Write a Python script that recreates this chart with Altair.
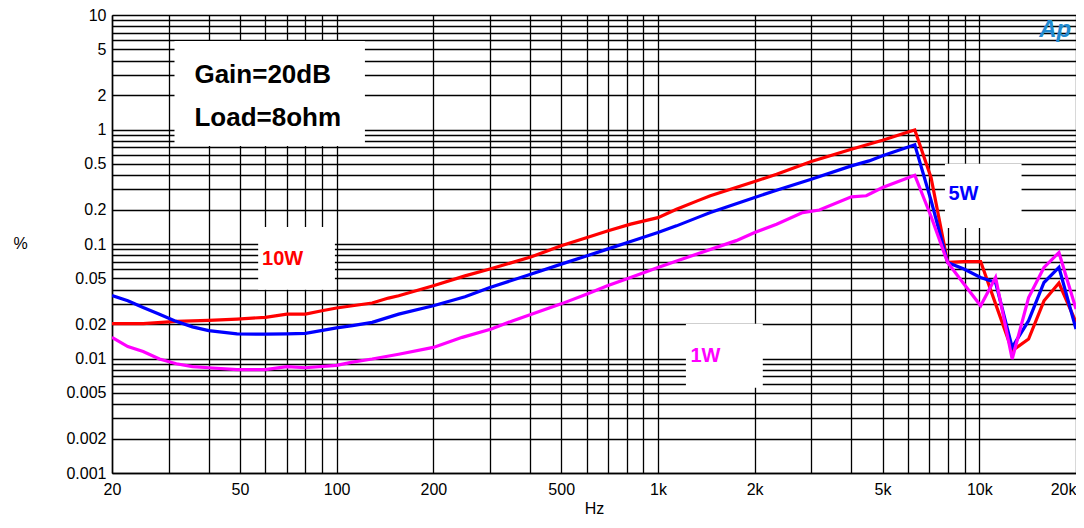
import altair as alt
import pandas as pd

# ---------------- data ----------------
freq_10w = [20, 25, 31.7, 40, 49, 60, 70, 80, 90, 100, 112, 129, 145, 156, 200, 251, 300, 404, 500, 602,
            696, 822, 1000, 1142, 1326, 1456, 2000, 2340, 3000, 4000, 5000, 5940, 6300, 7080, 7970, 8960,
            10100, 11240, 12660, 14240, 15900, 17700, 20000]
thd_10w = [0.0202, 0.0202, 0.0211, 0.0215, 0.0221, 0.0229, 0.0244, 0.0244, 0.0261, 0.0276, 0.0289, 0.0305,
           0.0337, 0.0353, 0.0432, 0.0527, 0.0604, 0.0773, 0.0964, 0.114, 0.130, 0.149, 0.170, 0.201, 0.238,
           0.264, 0.351, 0.407, 0.525, 0.673, 0.807, 0.940, 0.99, 0.380, 0.069, 0.0702, 0.0703, 0.030,
           0.0117, 0.0148, 0.0319, 0.0456, 0.0207]

freq_5w = [20, 22.4, 25, 28.1, 31.3, 35.6, 40, 49, 60, 70, 80, 100, 112, 129, 156, 200, 251, 300, 404, 500,
           602, 696, 822, 1000, 1142, 1326, 1456, 2000, 2340, 3000, 4000, 4540, 5000, 6300, 7080, 7970, 8960,
           10100, 11240, 12660, 14240, 15900, 17700, 20000]
thd_5w = [0.0355, 0.0319, 0.0279, 0.0244, 0.0214, 0.0189, 0.0175, 0.0164, 0.0163, 0.0164, 0.0166, 0.0185,
          0.0194, 0.0207, 0.0244, 0.0289, 0.0346, 0.0417, 0.0546, 0.0667, 0.0788, 0.0902, 0.105, 0.126, 0.144,
          0.170, 0.188, 0.255, 0.295, 0.368, 0.481, 0.532, 0.591, 0.735, 0.240, 0.069, 0.0604, 0.0510, 0.0461,
          0.0125, 0.0214, 0.0461, 0.0624, 0.0181]

freq_1w = [20, 22.4, 25, 28.1, 31.7, 35.6, 40, 49, 60, 70, 80, 100, 112, 129, 156, 200, 246, 303, 354, 404,
           500, 602, 696, 822, 1000, 1230, 1752, 2000, 2340, 2820, 3180, 4000, 4450, 5000, 6300, 7080, 7970,
           8960, 10100, 11240, 12660, 14240, 15900, 17700, 20000]
thd_1w = [0.0153, 0.0127, 0.0115, 0.0099, 0.0090, 0.0085, 0.0083, 0.0080, 0.0080, 0.0085, 0.0083, 0.0087,
          0.0093, 0.0099, 0.0109, 0.0125, 0.0153, 0.0181, 0.0214, 0.0244, 0.0300, 0.0366, 0.0432, 0.0511,
          0.0624, 0.0762, 0.107, 0.126, 0.149, 0.188, 0.198, 0.258, 0.264, 0.311, 0.399, 0.174, 0.069, 0.0447,
          0.0289, 0.0510, 0.0099, 0.0341, 0.0624, 0.0843, 0.0270]

series_names = ["10W", "5W", "1W"]
series_colors = ["#ff0000", "#0000ff", "#ff00ff"]

# tick values / labels
x_label_values = [20, 50, 100, 200, 500, 1000, 2000, 5000, 10000, 20000]
x_label_texts = ["20", "50", "100", "200", "500", "1k", "2k", "5k", "10k", "20k"]
y_label_values = [0.001, 0.002, 0.005, 0.01, 0.02, 0.05, 0.1, 0.2, 0.5, 1, 2, 5, 10]
y_label_texts = ["0.001", "0.002", "0.005", "0.01", "0.02", "0.05", "0.1", "0.2", "0.5", "1", "2", "5", "10"]

# annotation boxes (white patches) in data coordinates
box_f1 = [31.3, 57.0, 7820, 1222]
box_f2 = [122.5, 98.8, 13540, 2120]
box_v1 = [5.93, 0.141, 0.501, 0.0201]
box_v2 = [0.719, 0.0398, 0.138, 0.00556]

# annotation texts
note_text = ["Gain=20dB", "Load=8ohm", "10W", "5W", "1W"]
note_f = [36.1, 36.1, 58.6, 8020, 1262]
note_v = [2.99, 1.26, 0.0743, 0.274, 0.01047]
note_color = ["#000000", "#000000", "#ff0000", "#0000ff", "#ff00ff"]
note_size = [26, 26, 20, 20, 20]

# ---------------- build tables ----------------
rows = []
for name, fs, vs in zip(series_names, [freq_10w, freq_5w, freq_1w], [thd_10w, thd_5w, thd_1w]):
    for f, v in zip(fs, vs):
        rows.append({"series": name, "freq": f, "thd": v})
df = pd.DataFrame(rows)

box_df = pd.DataFrame({"f1": box_f1, "f2": box_f2, "v1": box_v1, "v2": box_v2})
note_df = pd.DataFrame({"text": note_text, "f": note_f, "v": note_v, "color": note_color, "size": note_size})
logo_df = pd.DataFrame({"text": ["Ap"], "f": [17240], "v": [7.4]})

x_grid = []
for e in range(1, 5):
    for m in range(1, 10):
        val = m * 10 ** e
        if 20 <= val <= 20000:
            x_grid.append(val)
y_grid = []
for e in range(-3, 2):
    for m in range(1, 10):
        val = round(m * 10.0 ** e, 6)
        if 0.001 <= val <= 10:
            y_grid.append(val)
y_grid.append(10)


def label_expr(values, texts):
    expr = "''"
    for v, t in reversed(list(zip(values, texts))):
        expr = f"(abs(datum.value / {v} - 1) < 1e-6 ? '{t}' : {expr})"
    return expr


FONT = "Liberation Sans"

x_scale = alt.Scale(type="log", domain=[20, 20000], nice=False)
y_scale = alt.Scale(type="log", domain=[0.001, 10], nice=False)

x_axis = alt.Axis(
    values=x_grid, labelExpr=label_expr(x_label_values, x_label_texts),
    grid=True, gridColor="#000000", gridWidth=1.3, gridOpacity=1,
    ticks=False, domain=True, domainColor="#000000", domainWidth=1.5,
    labelFont=FONT, labelFontSize=16, labelColor="#000000", labelPadding=8,
    labelAlign={"condition": {"test": "datum.value >= 20000", "value": "right"}, "value": "center"},
    labelOverlap=False,
    title="Hz", titleFont=FONT, titleFontSize=16, titleFontWeight="normal", titleColor="#000000",
    titleX=482, titleY=35, titleBaseline="middle", titleAlign="center",
)
y_axis = alt.Axis(
    values=y_grid, labelExpr=label_expr(y_label_values, y_label_texts),
    grid=True, gridColor="#000000", gridWidth=1.3, gridOpacity=1,
    ticks=False, domain=True, domainColor="#000000", domainWidth=1.5,
    labelFont=FONT, labelFontSize=16, labelColor="#000000", labelPadding=6,
    labelOverlap=False,
    title="%", titleFont=FONT, titleFontSize=16, titleFontWeight="normal", titleColor="#000000",
    titleAngle=0, titleX=-92, titleY=228, titleBaseline="middle", titleAlign="center",
)

base_axes = alt.Chart(df).mark_line(opacity=0).encode(
    x=alt.X("freq:Q", scale=x_scale, axis=x_axis),
    y=alt.Y("thd:Q", scale=y_scale, axis=y_axis),
)

boxes = alt.Chart(box_df).mark_rect(fill="white").encode(
    x=alt.X("f1:Q", scale=x_scale), x2="f2:Q",
    y=alt.Y("v1:Q", scale=y_scale), y2="v2:Q",
)

lines = []
for name, col in zip(series_names, series_colors):
    lines.append(
        alt.Chart(df).transform_filter(alt.datum.series == name).mark_line(
            color=col, strokeWidth=3.2, strokeJoin="miter", clip=True
        ).encode(
            x=alt.X("freq:Q", scale=x_scale),
            y=alt.Y("thd:Q", scale=y_scale),
            order="freq:Q",
        )
    )

notes = alt.Chart(note_df).mark_text(
    font=FONT, fontWeight="bold", align="left", baseline="middle"
).encode(
    x=alt.X("f:Q", scale=x_scale),
    y=alt.Y("v:Q", scale=y_scale),
    text="text:N",
    color=alt.Color("color:N", scale=None),
    size=alt.Size("size:Q", scale=None),
)

logo = alt.Chart(logo_df).mark_text(
    font=FONT, fontWeight="bold", fontStyle="italic", fontSize=24, color="#1f8ad0",
    align="center", baseline="middle"
).encode(
    x=alt.X("f:Q", scale=x_scale),
    y=alt.Y("v:Q", scale=y_scale),
    text="text:N",
)

chart = alt.layer(base_axes, boxes, *lines, notes, logo).properties(
    width=964, height=458,
    padding={"left": 104, "top": 7, "right": 0, "bottom": 43},
    autosize=alt.AutoSizeParams(type="none"),
).configure_view(stroke="#000000", strokeWidth=1.5).configure(background="white")

chart.save("out.html", embed_options={"renderer": "svg", "actions": False})
